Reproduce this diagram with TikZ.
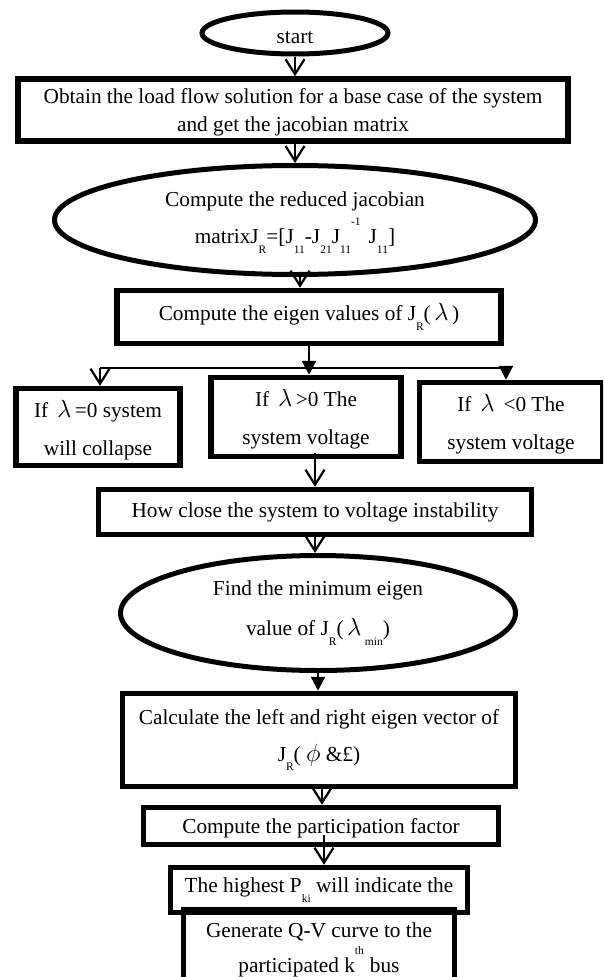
\documentclass[tikz,border=0pt]{standalone}
\usepackage{fontspec}
\setmainfont{Liberation Serif}
\usetikzlibrary{shapes.geometric,arrows.meta}
\newcommand\lsub[1]{\raisebox{-1.0ex}{\fontsize{11.5}{11.5}\selectfont #1}}
\newcommand\hsup[1]{\raisebox{1.9ex}{\fontsize{11.5}{11.5}\selectfont #1}}
\newcommand\lam{\,{\fontsize{24}{24}\selectfont$\lambda$}\,}
\begin{document}
\begin{tikzpicture}[x=1pt,y=-1pt,
  box/.style={draw, line width=5.5pt, rectangle, inner sep=0pt, align=center,
    font=\fontsize{21.3}{38}\selectfont},
  oval/.style={draw, line width=5pt, ellipse, inner sep=0pt, align=center,
    font=\fontsize{21.3}{38}\selectfont},
  vee/.style={line width=2.2pt, -{Straight Barb[length=15pt,width=19pt,line width=2.2pt]}},
  tri/.style={line width=2.2pt, -{Triangle[length=14pt,width=14pt]}},
  plain/.style={line width=2pt}
]
\useasboundingbox (0,0) rectangle (603,977);
\clip (0,0) rectangle (603,977);

\node[oval, minimum width=186pt, minimum height=42pt] (start) at (295,33) {\rule{0pt}{21pt}start};
\node[box, minimum width=550pt, minimum height=62pt, font=\fontsize{21.3}{28}\selectfont] (load) at (293,110)
  {\rule{0pt}{20pt}Obtain the load flow solution for a base case of the system\\and get the jacobian matrix};
\node[oval, minimum width=481pt, minimum height=109pt, font=\fontsize{21.3}{37}\selectfont] (red) at (295,220)
  {\rule{0pt}{20pt}Compute the reduced jacobian\\matrixJ\lsub{R}=[J\lsub{11}-J\lsub{21}J\lsub{11}\hsup{-1}\hspace{8pt}J\lsub{11}]};
\node[box, minimum width=384pt, minimum height=53pt] (eig) at (309,317)
  {Compute the eigen values of J\lsub{R}(\lam)};

\coordinate (brL) at (100,368);
\coordinate (brR) at (506,368);

\node[box, minimum width=164pt, minimum height=77pt] (zero) at (98,427)
  {\rule{0pt}{24pt}If \lam=0 system\\will collapse};
\node[box, minimum width=190pt, minimum height=79pt] (pos) at (306,417)
  {\rule{0pt}{22pt}If \lam{}>0 The\\system voltage};
\node[box, minimum width=183pt, minimum height=79pt] (neg) at (511,422)
  {\rule{0pt}{22pt}If \lam{} <0 The\\system voltage};

\node[box, minimum width=433pt, minimum height=45pt] (close) at (315,512)
  {How close the system to voltage instability};
\node[oval, minimum width=395pt, minimum height=115pt, font=\fontsize{21.3}{40}\selectfont] (min) at (318,613)
  {Find the minimum eigen\\value of J\lsub{R}(\lam\lsub{min})};
\node[box, minimum width=393pt, minimum height=93pt, font=\fontsize{21.3}{37}\selectfont] (vec) at (319,740)
  {Calculate the left and right eigen vector of\\J\lsub{R}( {\fontsize{30}{30}\selectfont$\phi$} \&£)};
\node[box, minimum width=355pt, minimum height=37pt] (part) at (321,826)
  {\rule{0pt}{19pt}Compute the participation factor};
\node[box, minimum width=297pt, minimum height=45pt] (high) at (319,890)
  {The highest P\lsub{ki} will indicate the};
\node[box, minimum width=271pt, minimum height=80pt, font=\fontsize{21.3}{35}\selectfont] (gen) at (319,950)
  {Generate Q-V curve to the\\participated k\hsup{th}\hspace{6pt}bus};

% connectors
\draw[vee] (start.south) -- (start.south |- load.north);
\draw[vee] (load.south -| red.north) -- (red.north);
\draw[vee] ([xshift=5pt]red.south) -- ([xshift=5pt]red.south |- eig.north);
\draw[tri] (eig.south) -- (eig.south |- pos.north);
\draw[plain] (brL) -- (brR);
\draw[vee] (brL) -- (brL |- zero.north);
\draw[tri] (brR) -- (brR |- neg.north);
\draw[vee] ([xshift=9pt,yshift=6pt]pos.south) -- ([xshift=9pt]pos.south |- close.north);
\draw[vee] (close.south) -- (close.south |- min.north);
\draw[tri] (min.south) -- (min.south |- vec.north);
\draw[vee] ([xshift=3pt]vec.south) -- ([xshift=3pt]vec.south |- part.north);
\draw[vee] ([xshift=3pt,yshift=12pt]part.south) -- ([xshift=3pt]part.south |- high.north);
\end{tikzpicture}
\end{document}
